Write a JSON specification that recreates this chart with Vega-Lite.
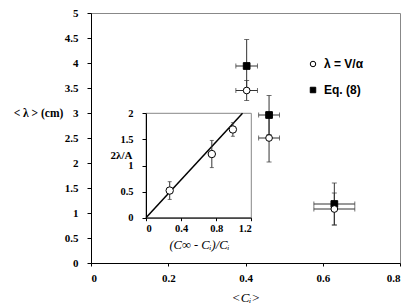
{
  "$schema": "https://vega.github.io/schema/vega-lite/v6.json",
  "width": 309,
  "height": 250,
  "autosize": {"type": "none"},
  "padding": {"left": 91, "top": 13, "right": 15, "bottom": 44},
  "background": "white",
  "config": {
    "view": {"stroke": "#888888", "strokeWidth": 1},
    "font": "Liberation Serif",
    "axis": {"grid": false, "domainColor": "black", "tickColor": "black", "labelColor": "black", "titleColor": "black", "labelFont": "Liberation Serif", "labelFontWeight": "bold", "titleFont": "Liberation Serif", "labelOverlap": false},
    "legend": {"title": null, "orient": "none", "legendX": 216, "legendY": 45, "labelFont": "Liberation Sans", "labelFontWeight": "bold", "labelFontSize": 12, "labelColor": "black", "symbolSize": 30, "symbolStrokeWidth": 1, "rowPadding": 14, "labelOffset": 5}
  },
  "resolve": {"scale": {"x": "independent", "y": "independent"}, "axis": {"x": "independent", "y": "independent"}},
  "layer": [
    {
      "data": {"values": [
        {"series": "Eq. (8)", "c": 0.403, "ce": 0.028, "l": 3.94, "le": 0.53},
        {"series": "Eq. (8)", "c": 0.461, "ce": 0.027, "l": 2.96, "le": 0.39},
        {"series": "Eq. (8)", "c": 0.630, "ce": 0.053, "l": 1.18, "le": 0.42},
        {"series": "λ = V/α", "c": 0.403, "ce": 0.028, "l": 3.45, "le": 0.2},
        {"series": "λ = V/α", "c": 0.461, "ce": 0.027, "l": 2.50, "le": 0.48},
        {"series": "λ = V/α", "c": 0.630, "ce": 0.053, "l": 1.08, "le": 0.32}
      ]},
      "encoding": {
        "x": {"field": "c", "type": "quantitative", "scale": {"domain": [0, 0.8]},
          "axis": {"orient": "bottom", "values": [0, 0.2, 0.4, 0.6, 0.8], "format": ".2~f", "labelFontSize": 11, "tickSize": 3, "labelPadding": 6, "zindex": 1,
            "title": "<Cᵢ>", "titleFontStyle": "italic", "titleFontWeight": "normal", "titleFontSize": 13, "titleY": 34, "titleBaseline": "middle"}},
        "y": {"field": "l", "type": "quantitative", "scale": {"domain": [0, 5]},
          "axis": {"orient": "left", "values": [0, 0.5, 1, 1.5, 2, 2.5, 3, 3.5, 4, 4.5, 5], "format": "~g", "labelFontSize": 11, "tickSize": 4, "labelPadding": 9, "zindex": 1,
            "title": "< λ > (cm)", "titleAngle": 0, "titleX": -53, "titleY": 100, "titleAlign": "center", "titleBaseline": "middle", "titleFontSize": 11.5, "titleFontWeight": "bold"}}
      },
      "layer": [
        {
          "mark": {"type": "errorbar", "ticks": {"size": 5}, "color": "#333333", "thickness": 1},
          "encoding": {"yError": {"field": "le"}}
        },
        {
          "mark": {"type": "errorbar", "ticks": {"size": 5}, "color": "#333333", "thickness": 1},
          "encoding": {"xError": {"field": "ce"}}
        },
        {
          "mark": {"type": "point", "strokeWidth": 1, "opacity": 1, "size": 45},
          "encoding": {
            "shape": {"field": "series", "type": "nominal", "scale": {"domain": ["λ = V/α", "Eq. (8)"], "range": ["circle", "square"]}},
            "fill": {"field": "series", "type": "nominal", "scale": {"domain": ["λ = V/α", "Eq. (8)"], "range": ["white", "black"]}},
            "stroke": {"field": "series", "type": "nominal", "scale": {"domain": ["λ = V/α", "Eq. (8)"], "range": ["black", "black"]}}
          }
        }
      ]
    },
    {
      "layer": [
        {
          "data": {"values": [{"r": 0, "r2": 1.2, "v": 0, "v2": 2}]},
          "mark": {"type": "rect", "fill": "white", "stroke": "#888888", "strokeWidth": 1},
          "encoding": {
            "x": {"field": "r", "type": "quantitative", "scale": {"domain": [0, 1.2], "range": [55, 160.3]},
              "axis": {"orient": "bottom", "offset": -45.3, "values": [0, 0.4, 0.8, 1.2], "format": ".1~f", "labelFontSize": 10.5, "tickSize": 3, "labelPadding": 3, "zindex": 2,
                "title": "(C∞ - Cᵢ)/Cᵢ", "titleFontStyle": "italic", "titleFontWeight": "normal", "titleFontSize": 12.5, "titleX": 108, "titleY": 27, "titleBaseline": "middle"}},
            "x2": {"field": "r2"},
            "y": {"field": "v", "type": "quantitative", "scale": {"domain": [0, 2], "range": [204.7, 100.3]},
              "axis": {"orient": "left", "offset": -55, "values": [0, 0.5, 1, 1.5, 2], "format": "~g", "labelFontSize": 10.5, "tickSize": 4, "labelPadding": 9, "zindex": 2,
                "title": "2λ/A", "titleAngle": 0, "titleX": -14, "titleY": 142.7, "titleAlign": "right", "titleBaseline": "middle", "titleFontSize": 11, "titleFontWeight": "bold"}},
            "y2": {"field": "v2"}
          }
        },
        {
          "data": {"values": [{"r": 0, "v": 0}, {"r": 1.1, "v": 2}]},
          "mark": {"type": "line", "color": "black", "strokeWidth": 1.5},
          "encoding": {
            "x": {"field": "r", "type": "quantitative", "axis": {"orient": "bottom", "title": "(C∞ - Cᵢ)/Cᵢ"}},
            "y": {"field": "v", "type": "quantitative", "axis": {"orient": "left", "title": "2λ/A"}}
          }
        },
        {
          "data": {"values": [
            {"r": 0.27, "v": 0.52, "e": 0.17},
            {"r": 0.75, "v": 1.22, "e": 0.26},
            {"r": 0.99, "v": 1.69, "e": 0.13}
          ]},
          "encoding": {
            "x": {"field": "r", "type": "quantitative", "axis": {"orient": "bottom", "title": "(C∞ - Cᵢ)/Cᵢ"}},
            "y": {"field": "v", "type": "quantitative", "axis": {"orient": "left", "title": "2λ/A"}}
          },
          "layer": [
            {
              "mark": {"type": "errorbar", "ticks": {"size": 4}, "color": "#333333", "thickness": 1},
              "encoding": {"yError": {"field": "e"}}
            },
            {
              "mark": {"type": "point", "shape": "circle", "filled": true, "fill": "white", "stroke": "black", "strokeWidth": 1, "size": 55, "opacity": 1}
            }
          ]
        }
      ]
    }
  ]
}
